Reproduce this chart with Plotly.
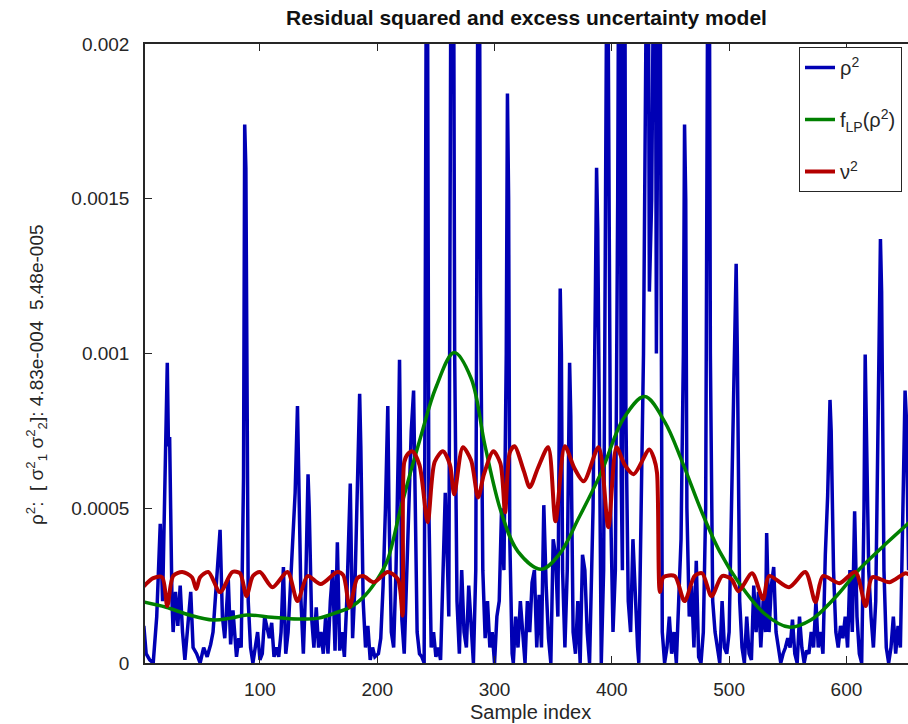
import plotly.graph_objects as go

UNIT = 1e-4  # values below are given in units of 1e-4

# rho^2 (residual squared) - sample index / value (x1e-4)
rho2_idx = [1, 3, 6, 9, 12, 15, 17, 19, 21, 22, 23, 25, 26, 28, 30, 32, 34, 36, 38, 41,
            43, 46, 49, 52, 55, 58, 60, 63, 66, 68, 70, 73, 75, 77, 80, 82, 84, 86, 87, 88,
            89, 90, 92, 94, 96, 98, 100, 102, 104, 106, 108, 110, 112, 114, 116, 118, 120, 122, 124, 126,
            128, 130, 132, 133, 135, 137, 139, 141, 142, 144, 146, 148, 150, 152, 154, 156, 158, 160, 162, 164,
            166, 168, 170, 172, 174, 177, 179, 181, 183, 185, 186, 188, 190, 192, 194, 196, 198, 201, 203, 205,
            207, 209, 210, 212, 214, 216, 218, 219, 220, 221, 223, 225, 227, 229, 231, 232, 234, 236, 238, 240,
            241, 242, 243, 244, 246, 248, 250, 252, 254, 256, 258, 260, 261, 263, 264, 265, 266, 268, 270, 272,
            274, 276, 278, 280, 282, 284, 286, 287, 288, 290, 292, 294, 296, 298, 300, 302, 304, 306, 308, 310,
            311, 312, 313, 315, 316, 318, 320, 322, 324, 326, 328, 330, 332, 334, 336, 338, 340, 342, 344, 346,
            348, 350, 352, 354, 356, 357, 358, 360, 362, 364, 365, 367, 369, 371, 373, 375, 377, 379, 381, 384,
            386, 387, 388, 390, 391, 393, 395, 396, 397, 399, 401, 403, 405, 406, 407, 408, 409, 410, 411, 412,
            414, 416, 418, 420, 422, 423, 425, 427, 429, 430, 431, 432, 434, 436, 437, 438, 439, 440, 441, 442,
            443, 445, 447, 449, 451, 453, 455, 457, 459, 461, 462, 463, 464, 466, 468, 470, 472, 474, 476, 478,
            480, 482, 483, 484, 486, 488, 490, 492, 494, 496, 498, 500, 502, 504, 506, 507, 509, 511, 513, 515,
            517, 519, 521, 523, 525, 527, 529, 531, 532, 534, 536, 538, 540, 542, 544, 546, 548, 550, 552, 554,
            556, 558, 560, 562, 564, 566, 568, 570, 572, 574, 576, 578, 580, 582, 584, 586, 587, 589, 591, 593,
            595, 597, 599, 601, 603, 605, 607, 609, 611, 613, 615, 616, 617, 619, 621, 623, 625, 627, 629, 630,
            632, 634, 636, 638, 640, 642, 644, 646, 648, 650, 651, 653, 655]
rho2_val = [1.2, 0.3, 0.1, 0.0, 1.5, 4.5, 2.0, 6.0, 9.7, 7.0, 7.3, 2.0, 1.0, 2.3, 1.2, 2.5, 1.0, 0.1, 1.0, 2.3,
            0.5, 0.3, 0.0, 0.5, 0.2, 0.6, 1.0, 2.5, 4.3, 1.5, 0.8, 2.7, 0.6, 1.7, 0.2, 0.8, 0.5, 6.0, 17.4, 16.0,
            5.0, 2.0, 0.5, 0.0, 0.5, 1.0, 0.1, 0.3, 1.5, 1.2, 0.8, 1.3, 0.2, 0.5, 0.2, 1.0, 3.1, 0.3, 1.0, 2.5,
            4.1, 5.5, 8.3, 6.0, 2.0, 0.3, 2.5, 6.1, 5.0, 1.5, 0.5, 1.8, 0.5, 1.0, 0.3, 1.5, 0.3, 2.0, 3.0, 0.4,
            3.9, 0.4, 1.0, 0.2, 2.0, 5.8, 0.8, 2.5, 6.0, 8.7, 7.0, 2.0, 0.5, 1.2, 0.1, 0.5, 0.2, 0.3, 0.8, 2.5,
            5.0, 8.3, 5.0, 1.0, 0.5, 3.0, 7.0, 9.8, 6.0, 1.4, 0.3, 2.5, 5.0, 7.5, 8.8, 6.0, 1.0, 0.3, 0.2, 0.0,
            12.0, 25.0, 20.0, 5.0, 0.5, 1.0, 0.2, 0.5, 0.1, 3.0, 5.5, 3.0, 1.5, 25.0, 22.0, 25.0, 10.0, 2.0, 0.3, 3.0,
            1.0, 0.5, 2.5, 1.0, 0.0, 3.0, 25.0, 25.0, 12.0, 3.0, 0.8, 2.0, 0.5, 1.0, 0.0, 1.5, 2.0, 5.0, 3.0, 10.0,
            18.4, 15.0, 4.0, 0.3, 0.0, 1.5, 0.5, 2.0, 1.0, 0.0, 2.0, 1.0, 2.6, 3.0, 0.5, 2.2, 0.5, 5.1, 2.5, 0.8,
            0.0, 4.0, 3.5, 1.5, 12.1, 10.0, 3.0, 0.5, 3.0, 9.7, 8.0, 1.0, 0.3, 2.0, 0.0, 3.5, 3.0, 1.0, 0.0, 5.0,
            12.0, 16.0, 14.0, 2.0, 0.0, 3.0, 15.0, 25.0, 20.0, 5.0, 1.0, 3.0, 15.0, 25.0, 25.0, 6.0, 3.0, 25.0, 25.0, 8.0,
            2.0, 1.0, 4.0, 2.0, 0.5, 0.0, 5.0, 10.0, 20.0, 25.0, 25.0, 12.0, 15.0, 25.0, 25.0, 10.0, 14.0, 25.0, 25.0, 8.0,
            1.0, 0.0, 0.5, 1.5, 0.3, 1.0, 0.0, 2.0, 4.0, 10.0, 17.4, 15.0, 5.0, 1.5, 2.5, 0.5, 3.3, 0.2, 0.0, 1.0,
            5.0, 25.0, 25.0, 10.0, 2.0, 1.0, 0.5, 0.0, 2.0, 0.5, 0.3, 1.0, 5.0, 9.0, 12.9, 10.0, 2.0, 0.5, 0.0, 1.5,
            0.3, 0.1, 2.5, 1.0, 2.3, 0.5, 2.0, 1.0, 4.2, 1.0, 2.5, 3.1, 1.0, 0.5, 0.0, 0.3, 0.5, 0.8, 0.5, 1.4,
            0.3, 0.0, 1.5, 0.5, 0.0, 0.4, 0.3, 1.0, 0.5, 2.0, 0.5, 1.0, 0.3, 3.5, 5.4, 8.5, 7.5, 3.0, 1.0, 0.5,
            1.2, 0.8, 1.5, 0.5, 3.0, 1.0, 4.9, 1.5, 0.3, 0.0, 5.0, 9.97, 8.0, 3.0, 1.5, 0.5, 2.0, 8.0, 13.7, 12.0,
            3.0, 0.5, 0.0, 0.5, 1.5, 0.3, 1.2, 0.5, 4.0, 8.8, 8.0, 3.0, 4.0]

# f_LP(rho^2) - low-pass filtered residual
flp_idx = [1, 20, 40, 60, 75, 89, 110, 132, 150, 166, 177, 190, 200, 209, 220, 237, 250, 265.6, 280, 292,
           305.7, 320, 340, 355, 372, 391, 410, 428, 445, 460, 476.8, 492, 508, 530, 551, 570, 590, 611, 635, 654.7]
flp_val = [1.97, 1.8, 1.55, 1.39, 1.45, 1.55, 1.48, 1.42, 1.45, 1.64, 1.8, 2.2, 2.7, 3.35, 5.0, 7.3, 8.9, 10.03, 9.2, 7.0,
           4.87, 3.6, 3.03, 3.5, 4.7, 6.16, 7.9, 8.61, 7.8, 6.5, 4.87, 3.6, 2.61, 1.6, 1.16, 1.4, 2.1, 3.03, 3.9, 4.58]

# nu^2 - excess uncertainty model
nu2_idx = [1, 9, 16.6, 21, 26, 33.7, 42, 45.7, 49, 56, 66, 76.5, 83, 88.5, 94, 100, 110.7, 123.5, 132, 140.6,
           151.7, 166, 171, 176.5, 183, 188, 197, 209, 217.6, 221.6, 223, 226, 230, 236, 243, 249, 256, 262, 265.6, 273,
           280, 286, 291, 299, 305, 309, 313, 317, 325, 330, 337, 345.7, 352, 360, 368, 376, 388.7, 397, 404, 411,
           418.6, 432, 436, 438.5, 441, 444, 453.6, 462, 470.6, 477, 485, 494, 502, 508, 519.6, 529, 534, 551, 565, 573.6,
           580, 594, 607.6, 616.4, 622, 636.8, 650.5, 655]
nu2_val = [2.48, 2.74, 2.77, 1.84, 2.81, 2.94, 2.77, 2.39, 2.77, 2.94, 2.29, 2.94, 2.9, 2.16, 2.81, 2.94, 2.45, 2.94, 2.0, 2.81,
           2.55, 2.94, 2.84, 1.81, 2.74, 2.81, 2.61, 2.94, 2.71, 1.53, 6.48, 6.75, 6.84, 6.4, 4.55, 6.5, 6.84, 6.4, 5.45, 6.97,
           6.55, 5.35, 6.1, 6.84, 6.45, 4.87, 6.8, 7.0, 6.2, 5.68, 6.3, 6.97, 4.58, 7.0, 6.3, 5.87, 6.97, 4.39, 6.97, 6.4,
           6.1, 6.9, 6.6, 6.15, 2.29, 2.77, 2.81, 2.0, 2.81, 2.9, 2.16, 2.81, 2.71, 2.32, 2.9, 2.06, 2.81, 2.45, 2.94, 1.97,
           2.81, 2.58, 2.94, 1.84, 2.77, 2.61, 2.9, 2.81]

x_ticks = [100, 200, 300, 400, 500, 600]
y_ticks = [0, 0.0005, 0.001, 0.0015, 0.002]
y_tick_text = ["0", "0.0005", "0.001", "0.0015", "0.002"]

TXT = "#262626"
FONT = "Liberation Sans, Arial, Helvetica, sans-serif"

fig = go.Figure()
fig.add_trace(go.Scatter(x=rho2_idx, y=[v * UNIT for v in rho2_val], mode="lines",
                         line=dict(color="#0000b4", width=3.5), name="ρ<sup>2</sup>", legendgroup="a"))
fig.add_trace(go.Scatter(x=flp_idx, y=[v * UNIT for v in flp_val], mode="lines",
                         line=dict(color="#008000", width=3.5, shape="spline"),
                         name="f<sub>LP</sub>(ρ<sup>2</sup>)", legendgroup="b"))
fig.add_trace(go.Scatter(x=nu2_idx, y=[v * UNIT for v in nu2_val], mode="lines",
                         line=dict(color="#b40000", width=4, shape="spline", smoothing=0.8),
                         name="ν<sup>2</sup>", legendgroup="c"))

L, R, T, B = 145, 0, 44, 61
W, H = 908, 724
pw = W - L - R
ph = H - T - B

fig.update_layout(
    width=W, height=H,
    margin=dict(l=L, r=R, t=T, b=B, autoexpand=False),
    paper_bgcolor="white", plot_bgcolor="white",
    font=dict(family=FONT, size=19, color=TXT),
    title=dict(text="<b>Residual squared and excess uncertainty model</b>",
               x=(L + pw / 2) / W, xanchor="center", y=1 - 18 / H, yanchor="middle",
               font=dict(size=21, color="#111")),
    showlegend=True,
    legend=dict(x=(799 - L) / pw, xanchor="left", y=1 - 3 / ph, yanchor="top",
                bordercolor=TXT, borderwidth=1, bgcolor="white", tracegroupgap=23,
                font=dict(size=20, color=TXT)),
    annotations=[
        dict(text="Sample index", xref="paper", yref="paper",
             x=(530 - L) / pw, y=-(712 - (H - B)) / ph, xanchor="center", yanchor="middle",
             showarrow=False, font=dict(size=20, color=TXT)),
        dict(text="ρ<sup>2</sup>:  [ σ<sup>2</sup><sub>1</sub> σ<sup>2</sup><sub>2</sub>]: 4.83e-004  5.48e-005",
             xref="paper", yref="paper", x=(36 - L) / pw, y=((H - B) - 375) / ph,
             xanchor="center", yanchor="middle", textangle=-90, showarrow=False,
             font=dict(size=19, color=TXT)),
    ],
)
fig.update_xaxes(range=[2, 652.5], tickvals=x_ticks, ticks="inside", ticklen=7, tickcolor=TXT,
                 showline=True, linecolor=TXT, linewidth=1.5, mirror="ticks", showgrid=False,
                 zeroline=False, ticklabelstandoff=8, tickfont=dict(size=19, color=TXT))
fig.update_yaxes(range=[0, 0.002], tickvals=y_ticks, ticktext=y_tick_text, ticks="inside", ticklen=7,
                 tickcolor=TXT, showline=True, linecolor=TXT, linewidth=1.5, mirror=False, showgrid=False,
                 zeroline=False, ticklabelstandoff=10, tickfont=dict(size=19, color=TXT))

fig.write_html("out.html")
